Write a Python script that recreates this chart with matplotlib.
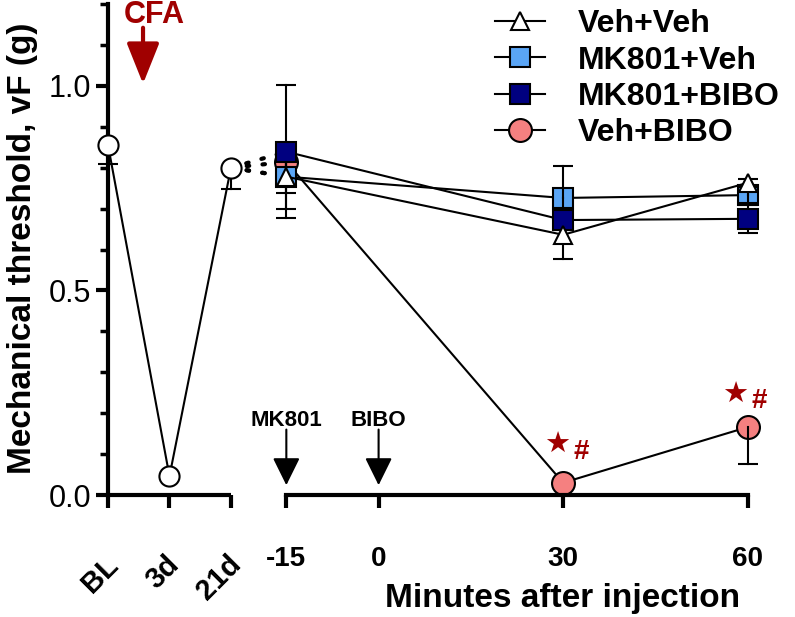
import matplotlib
matplotlib.use("Agg")
import matplotlib.pyplot as plt
from matplotlib.lines import Line2D
from matplotlib.ticker import MultipleLocator

plt.rcParams['font.family'] = ['Liberation Sans', 'DejaVu Sans']

# baseline / CFA days (one group, open circles)
days = ['BL', '3d', '21d']
days_mean = [0.856, 0.046, 0.800]
days_err = [0.046, 0.0, 0.052]

# minutes after injection
minutes = [-15, 30, 60]
groups = ['Veh+Veh', 'MK801+Veh', 'MK801+BIBO', 'Veh+BIBO']
veh_veh = [0.778, 0.636, 0.763]
veh_veh_err = [0.080, 0.060, 0.010]
mk_veh = [0.778, 0.726, 0.733]
mk_veh_err = [0.040, 0.078, 0.020]
mk_bibo = [0.839, 0.672, 0.675]
mk_bibo_err = [0.162, 0.020, 0.035]
veh_bibo = [0.814, 0.030, 0.166]
veh_bibo_err = [0.020, 0.000, 0.090]

# layout: where the day categories sit on the shared x scale
day_pos = [-44, -34, -24]

DARKRED = '#a00000'

fig = plt.figure(figsize=(7.95, 6.17), dpi=100)
ax = fig.add_axes([0.1358, 0.1977, 0.8201, 0.7958])
ax.set_xlim(-44, 62)
ax.set_ylim(0, 1.2)


def err_bars(xs, ys, err, z, upper=True):
    # whisker + cap, skipped where the error is zero
    for x, y, e in zip(xs, ys, err):
        if e <= 0:
            continue
        ends = [y - e, y + e] if upper else [y - e]
        for end in ends:
            ax.plot([x, x], [y, end], color='k', lw=1.5, zorder=z,
                    clip_on=False)
            ax.plot(x, end, marker='_', color='k', ms=14, mew=1.5, zorder=z,
                    clip_on=False)


# left panel: days
err_bars(day_pos, days_mean, days_err, 2, upper=False)
ax.plot(day_pos, days_mean, 'o-', color='k', mfc='white', mec='k', ms=14.5,
        mew=1.5, lw=1.5, clip_on=False, zorder=3)

# dotted links from 21d to each group's -15 value
for vals in [veh_veh, mk_veh, mk_bibo, veh_bibo]:
    ax.plot([day_pos[2], minutes[0]], [days_mean[2], vals[0]], color='k',
            lw=3, ls=(0, (0.6, 3.2)), dash_capstyle='round', zorder=1)

# (values, errors, marker, fill, size, marker zorder, errbar zorder, two-sided)
series = [
    (veh_veh, veh_veh_err, '^', 'white', 13, 5, 3.8, True),
    (mk_veh, mk_veh_err, 's', '#5aa5f5', 15, 3, 3.5, True),
    (mk_bibo, mk_bibo_err, 's', '#000080', 15, 4, 3.9, True),
    (veh_bibo, veh_bibo_err, 'o', '#f58080', 16.5, 2, 2.5, False),
]
handles = []
for (vals, err, mk, fc, ms, z, ez, both), name in zip(series, groups):
    err_bars(minutes, vals, err, ez, upper=both)
    ax.plot(minutes, vals, marker=mk, color='k', mfc=fc, mec='k', ms=ms,
            mew=1.5, lw=1.5, clip_on=False, zorder=z)
    handles.append(Line2D([], [], marker=mk, color='k', mfc=fc, mec='k',
                          ms=ms, mew=1.5, lw=1.5))

# significance marks on Veh+BIBO
for x, y, soff, hoff in [(30, veh_bibo[1], (-4, 27), (13, 22)),
                         (60, veh_bibo[2], (-9, 23), (8, 19))]:
    ax.annotate('★', xy=(x, y), xytext=soff, textcoords='offset points',
                ha='center', va='center', fontsize=21, color=DARKRED,
                family='DejaVu Sans')
    ax.annotate('#', xy=(x, y), xytext=hoff, textcoords='offset points',
                ha='center', va='center', fontsize=20, color=DARKRED,
                fontweight='bold')

# injection arrows
for x, name in [(-15, 'MK801'), (0, 'BIBO')]:
    ax.annotate('', xy=(x, 0.024), xytext=(x, 0.16),
                arrowprops=dict(arrowstyle='-|>,head_length=0.85,head_width=0.42',
                                color='k', lw=1.5, mutation_scale=20,
                                shrinkA=0, shrinkB=0))
    ax.text(x, 0.183, name, ha='center', va='center', fontsize=16,
            fontweight='bold')

# CFA arrow
ax.annotate('', xy=(-38.3, 1.005), xytext=(-38.3, 1.142),
            arrowprops=dict(arrowstyle='-|>,head_length=1.25,head_width=0.5',
                            color=DARKRED, lw=3, mutation_scale=20,
                            shrinkA=0, shrinkB=0), annotation_clip=False)
ax.text(-36.5, 1.172, 'CFA', ha='center', va='center', fontsize=22,
        fontweight='bold', color=DARKRED)

# axes styling
for s in ['top', 'right']:
    ax.spines[s].set_visible(False)
ax.spines['left'].set_linewidth(3)
ax.spines['bottom'].set_linewidth(3)
ax.spines['bottom'].set_bounds(minutes[0], minutes[-1])
ax.plot([day_pos[0], day_pos[-1]], [0, 0], color='k', lw=3,
        solid_capstyle='butt', clip_on=False, zorder=2)

ax.set_xticks(day_pos + [-15, 0, 30, 60])
ax.set_xticklabels(['', '', '', '-15', '0', '30', '60'], fontsize=20,
                   fontweight='bold')
ax.tick_params(axis='x', length=9, width=3, pad=28)
for x, lab in zip(day_pos, days):
    ax.annotate(lab, xy=(x, 0), xycoords=('data', 'axes fraction'),
                xytext=(4, -47), textcoords='offset points', rotation=45,
                rotation_mode='anchor', ha='right', va='center',
                fontsize=21, fontweight='bold')

ax.set_yticks([0, 0.5, 1.0])
ax.set_yticklabels(['0.0', '0.5', '1.0'], fontsize=22)
ax.yaxis.set_minor_locator(MultipleLocator(0.1))
ax.tick_params(axis='y', which='major', length=9, width=3, pad=3)
ax.tick_params(axis='y', which='minor', length=6, width=2.5)

ax.set_ylabel('Mechanical threshold, vF (g)', fontsize=24, fontweight='bold')
ax.yaxis.set_label_coords(-0.108, 0.503)
ax.set_xlabel('Minutes after injection', fontsize=24, fontweight='bold')
ax.xaxis.set_label_coords(0.698, -0.18)

fig.legend(handles=handles, labels=groups, loc='upper left',
           bbox_to_anchor=(0.623, 0.985), frameon=False,
           prop={'weight': 'bold', 'size': 23}, labelspacing=0.2,
           handlelength=1.57, handletextpad=1.0, borderpad=0,
           borderaxespad=0)

fig.savefig('out.png', dpi=100)
